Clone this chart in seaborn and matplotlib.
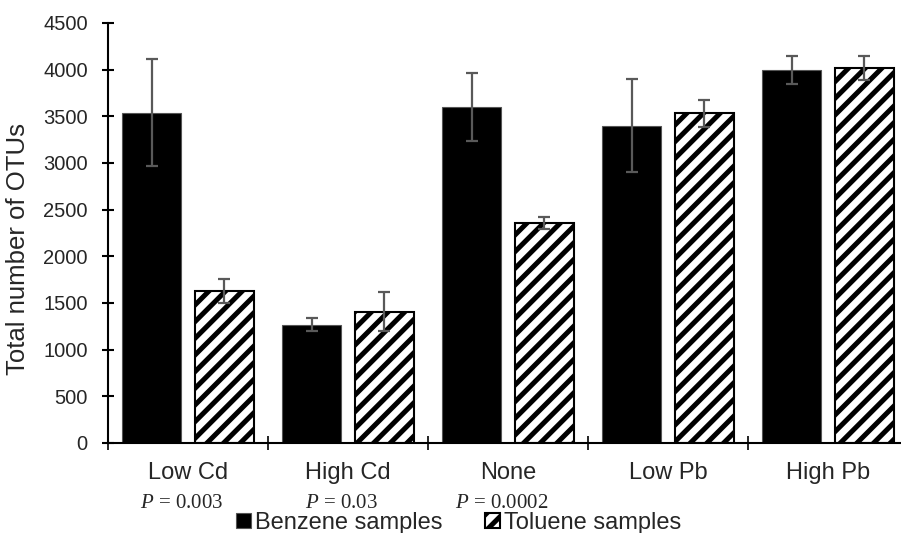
import matplotlib
matplotlib.use("Agg")
import matplotlib.pyplot as plt
import matplotlib.transforms as mtransforms
import seaborn as sns
import pandas as pd

# Data
categories = ["Low Cd", "High Cd", "None", "Low Pb", "High Pb"]
p_values = ["0.003", "0.03", "0.0002", None, None]
benzene_mean = [3540, 1265, 3600, 3400, 3995]
benzene_err = [570, 70, 360, 495, 150]
toluene_mean = [1630, 1405, 2360, 3535, 4015]
toluene_err = [130, 210, 65, 145, 130]
series = ["Benzene samples", "Toluene samples"]

df = pd.DataFrame({
    "condition": categories * 2,
    "sample": [series[0]] * len(categories) + [series[1]] * len(categories),
    "otus": benzene_mean + toluene_mean,
})
errors = [benzene_err, toluene_err]

sns.set_style("white")
plt.rcParams["font.family"] = ["Liberation Sans", "DejaVu Sans"]
plt.rcParams["hatch.linewidth"] = 3.6
plt.rcParams["mathtext.fontset"] = "custom"
plt.rcParams["mathtext.it"] = "Liberation Serif:italic"
plt.rcParams["mathtext.rm"] = "Liberation Serif"

fig = plt.figure(figsize=(9.01, 5.33), dpi=100)
ax = fig.add_axes([108 / 901, 90 / 533, 800 / 901, 420 / 533])

sns.barplot(data=df, x="condition", y="otus", hue="sample", order=categories,
            hue_order=series, palette=["black", "white"], errorbar=None,
            width=0.91, gap=0.2, legend=False, ax=ax)

bar_containers = list(ax.containers)

# Style bars and add error bars from the library's bar positions
for i, cont in enumerate(bar_containers):
    xs, ys = [], []
    for patch in cont.patches:
        if i == 0:
            patch.set_facecolor("black")
            patch.set_edgecolor("#555555")
            patch.set_linewidth(0.8)
        else:
            patch.set_facecolor("white")
            patch.set_edgecolor("black")
            patch.set_hatch("//")
            patch.set_linewidth(1.5)
        xs.append(patch.get_x() + patch.get_width() / 2)
        ys.append(patch.get_height())
    ax.errorbar(xs, ys, yerr=errors[i], fmt="none", ecolor="#595959",
                elinewidth=1.6, capsize=4.5, capthick=1.6, zorder=5)

ax.set_ylim(0, 4500)
ax.set_xlim(-0.5, len(categories) - 0.5)
ax.set_yticks(range(0, 4501, 500))
ax.tick_params(axis="y", left=True, labelsize=14.5, direction="inout",
               length=9, width=1.5, pad=10, color="black")

# major ticks at category boundaries, labels on minor ticks at centres
ax.set_xticks([k - 0.5 for k in range(len(categories) + 1)])
ax.set_xticklabels([])
ax.set_xticks(range(len(categories)), minor=True)
ax.set_xticklabels(categories, minor=True)
ax.tick_params(axis="x", which="major", bottom=True, direction="inout",
               length=10, width=1.2, color="black")
ax.tick_params(axis="x", which="minor", bottom=True, length=0, labelsize=17, pad=14)

ax.set_xlabel("")
ax.set_ylabel("Total number of OTUs", fontsize=18.5)
ax.yaxis.set_label_coords(-78 / 800, 0.462)

for side in ["top", "right"]:
    ax.spines[side].set_visible(False)
for side in ["left", "bottom"]:
    ax.spines[side].set_linewidth(1.5)
    ax.spines[side].set_color("black")

# P values under the category labels
trans = mtransforms.blended_transform_factory(ax.transData, ax.transAxes)
for k, p in enumerate(p_values):
    if p is None:
        continue
    ax.text(k - 0.04, -60 / 420, r"$\it{P}$ = " + p, transform=trans,
            ha="center", va="center", fontsize=15,
            family=["Liberation Serif", "DejaVu Serif"])

ax.legend(handles=bar_containers, labels=series, loc="center",
          bbox_to_anchor=(459 / 901, 10 / 533), bbox_transform=fig.transFigure,
          ncol=2, frameon=False, fontsize=17, handlelength=0.6,
          handleheight=0.6, handletextpad=0.2, columnspacing=1.8,
          borderpad=0)

fig.savefig("out.png", dpi=100)
